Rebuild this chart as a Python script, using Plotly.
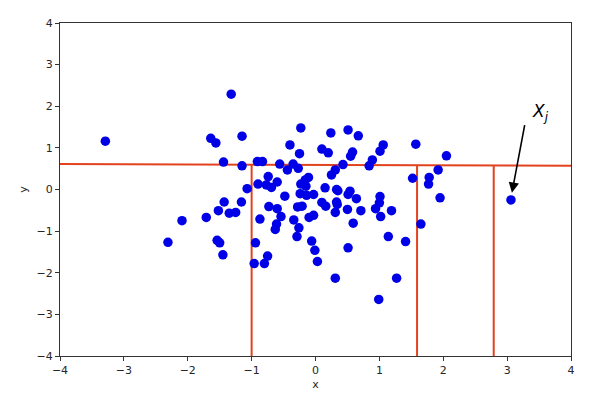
import plotly.graph_objects as go

# Scatter points
xs = [-3.29, -1.32, -1.64, -1.56, -1.15, -1.44, -1.15, -1.07, -1.43, -1.52,
      -1.35, -1.25, -1.71, -2.09, -2.31, -1.54, -1.50, -1.45, -1.16, -0.91,
      -0.83, -0.56, -0.44, -0.35, -0.27, -0.23, -0.40, -0.25, 0.10, 0.20,
      0.24, 0.31, 0.25, -0.74, -0.90, -0.77, -0.69, -0.60, -0.48, -0.11,
      -0.16, -0.23, -0.15, -0.24, -0.14, -0.03, 0.15, 0.33, 0.10, -0.73,
      -0.60, -0.54, -0.87, -0.61, -0.63, -0.34, -0.26, -0.29, -0.28, -0.21,
      -0.10, -0.03, 0.16, 0.33, 0.31, -0.06, -0.01, 0.03, 0.31, -0.94,
      -0.75, -0.96, -0.80, 0.51, 0.67, 1.06, 1.01, 0.58, 0.55, 0.89,
      0.84, 0.43, 1.57, 2.05, 1.92, 1.52, 1.78, 1.77, 0.35, 0.54,
      0.64, 1.01, 1.95, 1.65, 1.00, 0.94, 1.02, 1.19, 0.51, 0.34,
      0.50, 0.71, 0.59, 1.14, 1.41, 0.51, 1.27, 0.99, 3.06]
ys = [1.16, 2.29, 1.23, 1.12, 1.28, 0.66, 0.57, 0.02, -0.30, -0.51,
      -0.57, -0.55, -0.67, -0.75, -1.27, -1.22, -1.28, -1.57, -0.30, 0.67,
      0.67, 0.61, 0.47, 0.61, 0.51, 1.48, 1.07, 0.86, 0.97, 0.88,
      1.36, 0.47, 0.35, 0.31, 0.13, 0.11, 0.05, 0.18, -0.16, 0.29,
      0.23, 0.13, 0.08, -0.10, -0.14, -0.12, 0.04, 0.00, -0.31, -0.41,
      -0.46, -0.65, -0.71, -0.83, -0.96, -0.73, -0.92, -1.13, -0.42, -0.40,
      -0.67, -0.62, -0.40, -0.30, -0.55, -1.24, -1.46, -1.73, -2.13, -1.28,
      -1.60, -1.78, -1.78, 1.43, 1.29, 1.07, 0.92, 0.90, 0.80, 0.71,
      0.57, 0.60, 1.09, 0.81, 0.47, 0.27, 0.29, 0.13, -0.03, -0.04,
      -0.22, -0.17, -0.20, -0.83, -0.32, -0.46, -0.65, -0.51, -0.12, -0.36,
      -0.48, -0.51, -0.81, -1.13, -1.25, -1.40, -2.13, -2.64, -0.25]

# Split lines
hline_x = [-4.0, 4.0]
hline_y = [0.61, 0.57]
split_x = [-1.0, 1.59, 2.79]

# Annotation
label_text = "<i>X<sub>j</sub></i>"
arrow_tail = (3.30, 1.75)
arrow_head = (3.075, -0.08)
label_pos = (3.53, 1.85)

tick_vals = [-4, -3, -2, -1, 0, 1, 2, 3, 4]
tick_text = ["\u22124", "\u22123", "\u22122", "\u22121", "0", "1", "2", "3", "4"]

RED = "#e2431e"

def hline_at(x):
    t = (x - hline_x[0]) / (hline_x[1] - hline_x[0])
    return hline_y[0] + t * (hline_y[1] - hline_y[0])

fig = go.Figure()
fig.add_trace(go.Scatter(x=hline_x, y=hline_y, mode="lines",
                         line=dict(color=RED, width=2), showlegend=False, hoverinfo="skip"))
for sx in split_x:
    fig.add_trace(go.Scatter(x=[sx, sx], y=[-4, hline_at(sx)], mode="lines",
                             line=dict(color=RED, width=2), showlegend=False, hoverinfo="skip"))
fig.add_trace(go.Scatter(x=xs, y=ys, mode="markers",
                         marker=dict(color="#0000e6", size=9.5, line=dict(width=0)),
                         showlegend=False))

fig.add_annotation(x=arrow_head[0], y=arrow_head[1], ax=arrow_tail[0], ay=arrow_tail[1],
                   xref="x", yref="y", axref="x", ayref="y", showarrow=True,
                   arrowhead=2, arrowsize=1.3, arrowwidth=1.6, arrowcolor="black", text=" ")
fig.add_annotation(x=label_pos[0], y=label_pos[1], xref="x", yref="y", text=label_text,
                   showarrow=False, font=dict(size=17, color="black", family="DejaVu Sans"))

axis_common = dict(range=[-4, 4], tickvals=tick_vals, ticktext=tick_text,
                   showgrid=False, zeroline=False, showline=True, linecolor="#333333",
                   linewidth=1, mirror=True, ticks="outside", ticklen=4, tickcolor="#333333",
                   tickfont=dict(size=11, color="#262626", family="DejaVu Sans"))
fig.update_xaxes(**axis_common, title=dict(text="x", font=dict(size=11, color="#262626", family="DejaVu Sans"), standoff=4))
fig.update_yaxes(**axis_common, title=dict(text="y", font=dict(size=11, color="#262626", family="DejaVu Sans"), standoff=6))

fig.update_layout(width=594, height=392, margin=dict(l=52, r=31, t=9, b=44),
                  plot_bgcolor="white", paper_bgcolor="white",
                  font=dict(family="DejaVu Sans"))
fig.write_html("out.html")
